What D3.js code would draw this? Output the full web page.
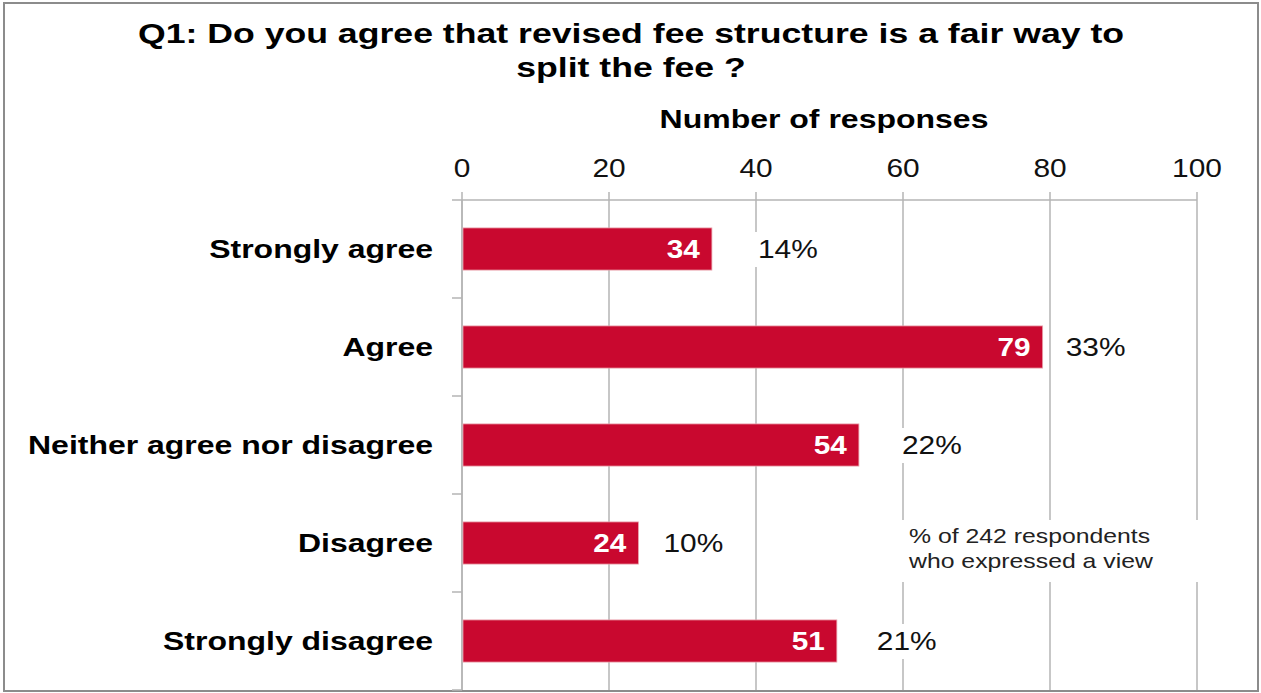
<!DOCTYPE html>
<html>
<head>
<meta charset="utf-8">
<script src="https://cdn.jsdelivr.net/npm/d3@7"></script>
<style>
  body { margin: 0; background: #fff; }
  svg text { font-family: "Liberation Sans", Arial, sans-serif; }
</style>
</head>
<body>
<div id="chart"></div>
<script>
// data
var categories = ["Strongly agree", "Agree", "Neither agree nor disagree", "Disagree", "Strongly disagree"];
var responses = [34, 79, 54, 24, 51];
var percents = ["14%", "33%", "22%", "10%", "21%"];
var xTicks = [0, 20, 40, 60, 80, 100];
var noteLines = ["% of 242 respondents", "who expressed a view"];

// layout: how far each % label sits past its bar end (px)
var pctGap = [46, 23, 43, 25, 40];

var W = 1261, H = 693;
var margin = {top: 200, right: 64, bottom: 3, left: 462};

var svg = d3.select("#chart").append("svg")
    .attr("width", W)
    .attr("height", H);

// frame
svg.append("rect")
    .attr("x", 4).attr("y", 3)
    .attr("width", 1254).attr("height", 688)
    .attr("fill", "#fff")
    .attr("stroke", "#8c8c8c")
    .attr("stroke-width", 2);

var x = d3.scaleLinear()
    .domain([0, 100])
    .range([margin.left, W - margin.right]);

var y = d3.scaleBand()
    .domain(categories)
    .range([margin.top, H - margin.bottom])
    .paddingInner(0.57)
    .paddingOuter(0.285);

// text helper: the picture is stretched sideways, so scale text in x
function label(g, tx, ty, sx, str) {
  return g.append("text")
      .attr("transform", "translate(" + tx + "," + ty + ") scale(" + sx + ",1)")
      .text(str);
}

var grid = "#b4b4b4";

// gridlines + top ticks
svg.append("g").selectAll("line")
    .data(xTicks)
    .enter().append("line")
    .attr("x1", function(d) { return x(d); })
    .attr("x2", function(d) { return x(d); })
    .attr("y1", margin.top - 8)
    .attr("y2", H - margin.bottom)
    .attr("stroke", grid)
    .attr("stroke-width", 1.5);

// top axis line
svg.append("line")
    .attr("x1", margin.left - 10).attr("x2", x(100))
    .attr("y1", margin.top).attr("y2", margin.top)
    .attr("stroke", grid).attr("stroke-width", 1.5);

// left axis line + band ticks
var step = y.step();
svg.append("line")
    .attr("x1", margin.left).attr("x2", margin.left)
    .attr("y1", margin.top).attr("y2", H - margin.bottom)
    .attr("stroke", grid).attr("stroke-width", 1.5);
svg.append("g").selectAll("line")
    .data(categories)
    .enter().append("line")
    .attr("x1", margin.left - 10).attr("x2", margin.left)
    .attr("y1", function(d) { return y(d) - y.paddingInner() * step / 2 + step; })
    .attr("y2", function(d) { return y(d) - y.paddingInner() * step / 2 + step; })
    .attr("stroke", grid).attr("stroke-width", 1.5);

// tick labels
var tickG = svg.append("g")
    .attr("font-size", "26px")
    .attr("fill", "#111")
    .attr("text-anchor", "middle");
xTicks.forEach(function(t) {
  label(tickG, x(t), 177, 1.15, t);
});

// titles
var titleG = svg.append("g")
    .attr("font-size", "27px")
    .attr("font-weight", "bold")
    .attr("text-anchor", "middle");
label(titleG, 631, 43, 1.32, "Q1: Do you agree that revised fee structure is a fair way to");
label(titleG, 631, 77, 1.32, "split the fee ?");

var axisTitle = svg.append("g")
    .attr("font-size", "25px")
    .attr("font-weight", "bold")
    .attr("text-anchor", "middle");
label(axisTitle, 824, 128, 1.28, "Number of responses");

// category labels
var catG = svg.append("g")
    .attr("font-size", "26px")
    .attr("font-weight", "bold")
    .attr("text-anchor", "end");
categories.forEach(function(c) {
  label(catG, 433, y(c) + y.bandwidth() / 2, 1.23, c).attr("dy", "0.35em");
});

// bars
svg.append("g").selectAll("rect")
    .data(responses)
    .enter().append("rect")
    .attr("x", x(0) + 1)
    .attr("y", function(d, i) { return y(categories[i]); })
    .attr("width", function(d) { return x(d) - x(0) - 1; })
    .attr("height", y.bandwidth())
    .attr("fill", "#c9082f")
    .attr("stroke", "#e9a3ad")
    .attr("stroke-width", 0.8);

// values inside bars
var valG = svg.append("g")
    .attr("font-size", "25px")
    .attr("font-weight", "bold")
    .attr("fill", "#fff")
    .attr("text-anchor", "end");
responses.forEach(function(v, i) {
  label(valG, x(v) - 12, y(categories[i]) + y.bandwidth() / 2, 1.19, v).attr("dy", "0.36em");
});

// percentage labels on white boxes
var pctG = svg.append("g")
    .attr("font-size", "26px")
    .attr("fill", "#111");
percents.forEach(function(p, i) {
  var cx = x(responses[i]) + pctGap[i];
  var cy = y(categories[i]) + y.bandwidth() / 2;
  var box = pctG.append("rect").attr("fill", "#fff");
  var t = label(pctG, cx, cy, 1.15, p).attr("dy", "0.36em");
  var w = t.node().getComputedTextLength() * 1.15;
  box.attr("x", cx - 5).attr("y", cy - 17).attr("width", w + 10).attr("height", 35);
});

// note box
var noteG = svg.append("g")
    .attr("font-size", "20px")
    .attr("fill", "#222");
noteG.append("rect")
    .attr("x", 896).attr("y", 520)
    .attr("width", 310).attr("height", 62)
    .attr("fill", "#fff");
noteLines.forEach(function(s, i) {
  label(noteG, 909, 543 + i * 25, 1.24, s);
});
</script>
</body>
</html>
